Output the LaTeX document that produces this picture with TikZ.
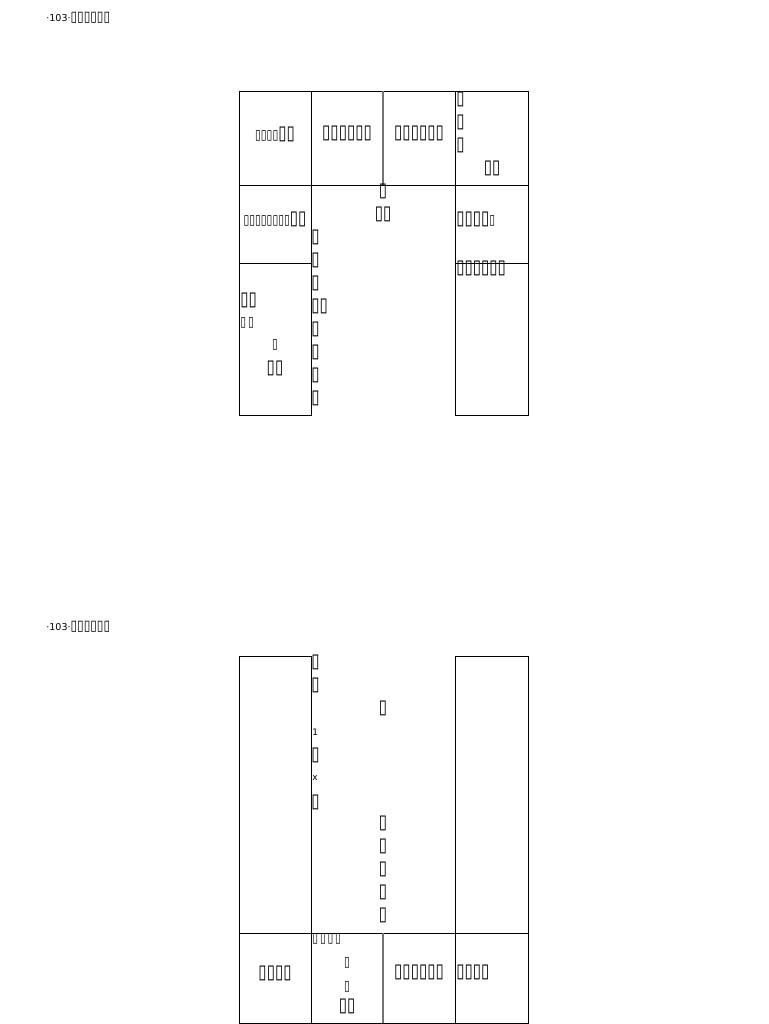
\documentclass[tikz,border=0pt]{standalone}
\usepackage{graphicx}
\usepackage{fontspec}
\setmainfont{DejaVu Sans}
\newfontfamily\djv{DejaVu Sans}
\newcommand\tfu{{\djv\fontsize{15}{16}\selectfont\scalebox{1}[1.3]{▯}}}
\newcommand\tfs{{\djv\fontsize{10.5}{11}\selectfont\scalebox{1}[1.3]{▯}}}
\newcommand\tfh{{\djv\fontsize{12}{13}\selectfont\scalebox{1}[1.2]{▯}}}
\begin{document}
\begin{tikzpicture}[x=1pt,y=-1pt,line width=0.8pt,
  rule/.style={draw=black,line width=0.8pt},
  sepline/.style={draw=black!55,line width=1.4pt},
  lbl/.style={inner sep=0pt,font=\fontsize{11}{12}\selectfont},
  lblw/.style={lbl,anchor=west},
  head/.style={inner sep=0pt,anchor=west,font=\fontsize{9.5}{10}\selectfont}]
\useasboundingbox (0,0) rectangle (768,1024);
\fill[white] (0,0) rectangle (768,1024);

% ---------- headers
\node[head] (h1) at (46,18) {·103·\tfh\tfh\tfh\tfh\tfh\tfh};
\node[head] (h2) at (46,627) {·103·\tfh\tfh\tfh\tfh\tfh\tfh};

% ---------- top table
\draw[rule] (239,91) -- (528,91);
\draw[rule] (239,185) -- (528,185);
\draw[rule] (239,91) -- (239,415) -- (311,415) -- (311,91);
\draw[rule] (455,91) -- (455,415) -- (528,415) -- (528,91);
\draw[rule] (239,263) -- (311,263);
\draw[rule] (455,263) -- (528,263);
\draw[sepline] (383,91) -- (383,185);

\node[lbl] (a1) at (275,134) {\tfs\tfs\tfs\tfs\tfu\tfu};
\node[lbl] (a2) at (347,133) {\tfu\tfu\tfu\tfu\tfu\tfu};
\node[lbl] (a3) at (419,133) {\tfu\tfu\tfu\tfu\tfu\tfu};
\node[lblw] (a4a) at (456,99) {\tfu};
\node[lblw] (a4b) at (456,122) {\tfu};
\node[lblw] (a4c) at (456,145) {\tfu};
\node[lbl] (a4d) at (492,168) {\tfu\tfu};

\node[lbl] (b1) at (275,219) {\tfs\tfs\tfs\tfs\tfs\tfs\tfs\tfs\tfu\tfu};
\node[lbl] (m1) at (383,191) {\tfu};
\node[lbl] (m2) at (383,214) {\tfu\tfu};
\node[lblw] (v1) at (311,237) {\tfu};
\node[lblw] (v2) at (311,260) {\tfu};
\node[lblw] (v3) at (311,283) {\tfu};
\node[lblw] (v4) at (311,306) {\tfu\tfu};
\node[lblw] (v5) at (311,329) {\tfu};
\node[lblw] (v6) at (311,352) {\tfu};
\node[lblw] (v7) at (311,375) {\tfu};
\node[lblw] (v8) at (311,398) {\tfu};

\node[lblw] (r1) at (456,219) {\tfu\tfu\tfu\tfu\tfs};
\node[lblw] (r2) at (456,268) {\tfu\tfu\tfu\tfu\tfu\tfu};

\node[lblw] (c1) at (240,300) {\tfu\tfu};
\node[lblw] (c2) at (240,323) {\tfs\,\tfs};
\node[lbl] (c3) at (275,345) {\tfs};
\node[lbl] (c4) at (275,368) {\tfu\tfu};

% ---------- bottom table
\draw[rule] (239,656) -- (311,656);
\draw[rule] (455,656) -- (528,656);
\draw[rule] (239,656) -- (239,1023) -- (528,1023) -- (528,656);
\draw[rule] (311,656) -- (311,1023);
\draw[rule] (455,656) -- (455,1023);
\draw[rule] (239,933) -- (528,933);
\draw[sepline] (383,933) -- (383,1023);

\node[lblw] (w1) at (311,662) {\tfu};
\node[lblw] (w2) at (311,685) {\tfu};
\node[lblw,font=\fontsize{9}{10}\selectfont] (w3) at (312,732) {1};
\node[lblw] (w4) at (311,755) {\tfu};
\node[lblw,font=\fontsize{9}{10}\selectfont] (w5) at (312,778) {x};
\node[lblw] (w6) at (311,802) {\tfu};

\node[lbl] (n0) at (383,708) {\tfu};
\node[lbl] (n1) at (383,823) {\tfu};
\node[lbl] (n2) at (383,846) {\tfu};
\node[lbl] (n3) at (383,869) {\tfu};
\node[lbl] (n4) at (383,892) {\tfu};
\node[lbl] (n5) at (383,915) {\tfu};

\node[lbl] (d1) at (275,973) {\tfu\tfu\tfu\tfu};
\node[lblw] (d2a) at (312,939) {\tfs\,\tfs\,\tfs\,\tfs};
\node[lbl] (d2b) at (347,963) {\tfs};
\node[lbl] (d2c) at (347,987) {\tfs};
\node[lbl] (d2d) at (347,1006) {\tfu\tfu};
\node[lbl] (d3) at (419,972) {\tfu\tfu\tfu\tfu\tfu\tfu};
\node[lblw] (d4) at (456,972) {\tfu\tfu\tfu\tfu};
\end{tikzpicture}
\end{document}
